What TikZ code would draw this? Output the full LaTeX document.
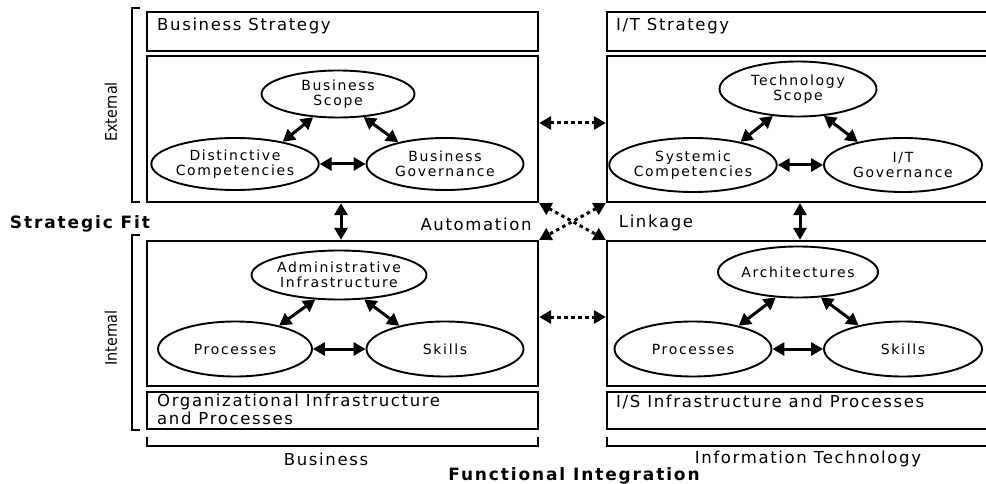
\documentclass[tikz,border=0pt]{standalone}
\usepackage{fontspec}
\setmainfont{DejaVu Sans}
\newfontfamily\boxfont{DejaVu Sans}[LetterSpace=10]
\newfontfamily\ovalfont{DejaVu Sans}[LetterSpace=12]
\newfontfamily\headfont{DejaVu Sans}[LetterSpace=11]
\newfontfamily\sidefont{DejaVu Sans Condensed}
\usetikzlibrary{arrows.meta,shapes.geometric}

\begin{document}
\begin{tikzpicture}[x=1pt,y=-1pt,
  panel/.style={draw, line width=2.3pt, rectangle, inner sep=0pt},
  oval/.style={draw, ellipse, line width=1.9pt, inner sep=0pt, align=center,
    font=\ovalfont\fontsize{14}{15.5}\selectfont},
  link/.style={line width=3pt,
    {Triangle[length=12pt,width=13pt]}-{Triangle[length=12pt,width=13pt]}},
  dotlink/.style={link, dash pattern=on 3.5pt off 3.5pt},
  bracket/.style={line width=2.2pt},
  boxtext/.style={anchor=west, inner sep=0pt, align=left,
    font=\boxfont\fontsize{16.5}{18}\selectfont},
  label/.style={inner sep=0pt, font=\boxfont\fontsize{16.5}{18}\selectfont},
  head/.style={inner sep=0pt, font=\headfont\bfseries\fontsize{17}{19}\selectfont},
  side/.style={inner sep=0pt, rotate=90, font=\sidefont\fontsize{16}{18}\selectfont}]

\useasboundingbox (0,0) rectangle (986,484);
\fill[white] (0,0) rectangle (986,484);
\clip (0,0) rectangle (986,484);

% ---- business column ----
\node[panel, minimum width=391pt, minimum height=39pt]  (bsL)  at (342.5,31.5) {};
\node[panel, minimum width=391pt, minimum height=146pt] (extL) at (342.5,129) {};
\node[panel, minimum width=391pt, minimum height=145pt] (intL) at (342.5,313.5) {};
\node[panel, minimum width=391pt, minimum height=37pt]  (infL) at (342.5,410.5) {};

% ---- information technology column ----
\node[panel, minimum width=391pt, minimum height=39pt]  (bsR)  at (802.5,31.5) {};
\node[panel, minimum width=391pt, minimum height=146pt] (extR) at (802.5,129) {};
\node[panel, minimum width=391pt, minimum height=145pt] (intR) at (802.5,313.5) {};
\node[panel, minimum width=391pt, minimum height=37pt]  (infR) at (802.5,410.5) {};

% box titles
\node[boxtext] (tBS) at (157,26) {Business Strategy};
\node[boxtext] (tIT) at (616,26) {I/T Strategy};
\node[boxtext, anchor=north west] (tOI) at (157,393.5) {Organizational Infrastructure\\and Processes};
\node[boxtext] (tIS) at (616,402) {I/S Infrastructure and Processes};

% ---- business strategy triad ----
\node[oval, minimum width=153pt, minimum height=47pt] (scopeL) at (338,94) {Business\\Scope};
\node[oval, minimum width=154pt, minimum height=52pt] (dcL) at (235,164) {Distinctive\\Competencies};
\node[oval, minimum width=157pt, minimum height=52pt] (bgL) at (445,164) {Business\\Governance};
\draw[link] (scopeL.223) -- (dcL.25);
\draw[link] (scopeL.318) -- (bgL.155);
\draw[link] (dcL.east) -- (bgL.west);

% ---- I/T strategy triad ----
\node[oval, minimum width=157pt, minimum height=55pt] (techR) at (798,89) {Technology\\Scope};
\node[oval, minimum width=157pt, minimum height=54pt] (scR) at (693,165) {Systemic\\Competencies};
\node[oval, minimum width=158pt, minimum height=54pt] (itgR) at (903,165) {I/T\\Governance};
\draw[link] (techR.227) -- (scR.26);
\draw[link] (techR.314) -- (itgR.153);
\draw[link] (scR.east) -- (itgR.west);

% ---- organizational infrastructure triad ----
\node[oval, minimum width=154pt, minimum height=49pt] (adminL) at (339,275) {Administrative\\Infrastructure};
\node[oval, minimum width=154pt, minimum height=55pt] (procL) at (235,349) {Processes};
\node[oval, minimum width=157pt, minimum height=55pt] (skillL) at (445,349) {Skills};
\draw[link] (adminL.226) -- (procL.28);
\draw[link] (adminL.316) -- (skillL.153);
\draw[link] (procL.east) -- (skillL.west);

% ---- I/S infrastructure triad ----
\node[oval, minimum width=157pt, minimum height=51pt] (archR) at (798,272) {Architectures};
\node[oval, minimum width=157pt, minimum height=55pt] (procR) at (693,349) {Processes};
\node[oval, minimum width=158pt, minimum height=55pt] (skillR) at (903,349) {Skills};
\draw[link] (archR.229) -- (procR.27);
\draw[link] (archR.312) -- (skillR.152);
\draw[link] (procR.east) -- (skillR.west);

% ---- strategic fit and integration links ----
\draw[link] ([xshift=-1.5pt]extL.south) -- ([xshift=-1.5pt]intL.north);
\draw[link] ([xshift=-2.5pt]extR.south) -- ([xshift=-2.5pt]intR.north);
\draw[dotlink] ([yshift=6pt]extL.east) -- ([yshift=6pt]extR.west);
\draw[dotlink] ([yshift=-3.5pt]intL.east) -- ([yshift=-3.5pt]intR.west);
\draw[dotlink] (extL.south east) -- (intR.north west);
\draw[dotlink] (extR.south west) -- (intL.north east);

% ---- brackets ----
\draw[bracket] (140,8) -- (132,8) -- (132,202) -- (140,202);
\draw[bracket] (140,235) -- (132,235) -- (132,430) -- (140,430);
\draw[bracket] (147,437) -- (147,446) -- (538,446) -- (538,437);
\draw[bracket] (607,437) -- (607,446) -- (998,446) -- (998,437);

% ---- axis labels ----
\node[side] (lExt) at (111,112) {External};
\node[side] (lInt) at (111,338) {Internal};
\node[head] (lFit) at (80,224) {Strategic Fit};
\node[label] (lAuto) at (476,224) {Automation};
\node[label] (lLink) at (656,223) {Linkage};
\node[label] (lBus) at (326,459) {Business};
\node[label] (lIT) at (808,459) {Information Technology};
\node[head] (lFI) at (574,476) {Functional Integration};
\end{tikzpicture}
\end{document}
